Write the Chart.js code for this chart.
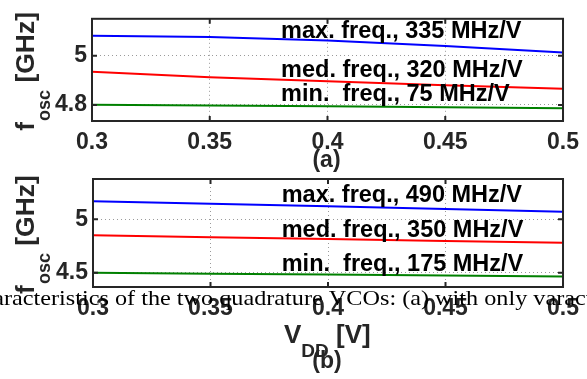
<!DOCTYPE html>
<html>
<head>
<meta charset="utf-8">
<script src="https://cdn.jsdelivr.net/npm/chart.js@4.4.0/dist/chart.umd.min.js"></script>
<style>
  html, body { margin: 0; padding: 0; background: #fff; }
  #wrap { position: relative; width: 587px; height: 379px; overflow: hidden; }
  #wrap canvas { position: absolute; left: 0; top: 0; }
</style>
</head>
<body>
<div id="wrap">
  <canvas id="vcoA" width="587" height="379"></canvas>
  <canvas id="vcoB" width="587" height="379"></canvas>
</div>
<script>
const vdd = [0.3, 0.35, 0.4, 0.45, 0.5];
const xTicks = [0.3, 0.35, 0.4, 0.45, 0.5];

// (a) oscillation frequency in GHz
const maxFreqA = [5.081, 5.076, 5.062, 5.040, 5.013];
const medFreqA = [4.935, 4.913, 4.896, 4.880, 4.866];
const minFreqA = [4.801, 4.798, 4.795, 4.791, 4.787];
const yTicksA = [4.8, 5];
const notesA = ["max. freq., 335 MHz/V", "med. freq., 320 MHz/V", "min.  freq., 75 MHz/V"];

// (b) oscillation frequency in GHz
const maxFreqB = [5.169, 5.146, 5.122, 5.097, 5.071];
const medFreqB = [4.850, 4.832, 4.815, 4.797, 4.781];
const minFreqB = [4.500, 4.491, 4.483, 4.474, 4.464];
const yTicksB = [4.5, 5];
const notesB = ["max. freq., 490 MHz/V", "med. freq., 350 MHz/V", "min.  freq., 175 MHz/V"];

const caption = "characteristics of the two quadrature VCOs: (a) with only varactors";

const SANS = "'Liberation Sans', Arial, sans-serif";
const AXIS_INK = "#262626";

// box around the plot area with MATLAB-style inward ticks
const framePlugin = {
  id: "frame",
  afterDatasetsDraw(chart) {
    const { ctx, chartArea: a, scales } = chart;
    ctx.save();
    ctx.strokeStyle = AXIS_INK;
    ctx.lineWidth = 2;
    ctx.beginPath();
    scales.x.ticks.forEach(t => {
      const px = scales.x.getPixelForValue(t.value);
      ctx.moveTo(px, a.bottom); ctx.lineTo(px, a.bottom - 5);
      ctx.moveTo(px, a.top); ctx.lineTo(px, a.top + 5);
    });
    scales.y.ticks.forEach(t => {
      const py = scales.y.getPixelForValue(t.value);
      ctx.moveTo(a.left, py); ctx.lineTo(a.left + 5, py);
      ctx.moveTo(a.right, py); ctx.lineTo(a.right - 5, py);
    });
    ctx.stroke();
    ctx.strokeRect(a.left, a.top, a.right - a.left, a.bottom - a.top);
    ctx.restore();
  }
};

// slope notes, y-axis title and panel tag
const textPlugin = {
  id: "texts",
  afterDraw(chart, args, o) {
    const { ctx, chartArea: a, scales } = chart;
    ctx.save();
    ctx.fillStyle = "#000";
    ctx.font = "bold 23.5px " + SANS;
    ctx.textAlign = "left";
    ctx.textBaseline = "alphabetic";
    const nx = scales.x.getPixelForValue(o.noteX);
    o.notes.forEach((s, i) => {
      ctx.fillText(s, nx, scales.y.getPixelForValue(o.noteY[i]));
    });

    // f_osc [GHz], rotated
    ctx.fillStyle = AXIS_INK;
    const mainFont = "bold 26.5px " + SANS;
    const subFont = "bold 18px " + SANS;
    ctx.font = mainFont;
    const wf = ctx.measureText("f").width;
    const wr = ctx.measureText(" [GHz]").width;
    ctx.font = subFont;
    const ws = ctx.measureText("osc").width;
    const total = wf + ws + wr;
    const cy = (a.top + a.bottom) / 2 + 2;
    ctx.translate(34, cy + total / 2);
    ctx.rotate(-Math.PI / 2);
    ctx.font = mainFont;
    ctx.fillText("f", 0, 0);
    ctx.font = subFont;
    ctx.fillText("osc", wf + 1, 16);
    ctx.font = mainFont;
    ctx.fillText(" [GHz]", wf + ws + 1, 0);
    ctx.setTransform(1, 0, 0, 1, 0, 0);

    ctx.font = "bold 23px " + SANS;
    ctx.textAlign = "center";
    ctx.textBaseline = "middle";
    ctx.fillText(o.tag, (a.left + a.right) / 2 - 1, o.tagY);

    if (o.xTitle) {
      ctx.textAlign = "left";
      ctx.textBaseline = "alphabetic";
      ctx.font = "bold 26px " + SANS;
      ctx.fillText("V", 284, 343);
      const wv = ctx.measureText("V").width;
      ctx.font = "bold 19px " + SANS;
      ctx.fillText("DD", 284 + wv, 357);
      const wd = ctx.measureText("DD").width;
      ctx.font = "bold 26px " + SANS;
      ctx.fillText(" [V]", 284 + wv + wd, 343);
    }

    if (o.caption) {
      ctx.fillStyle = "#000";
      ctx.font = "22px 'Liberation Serif', 'Times New Roman', serif";
      ctx.textAlign = "left";
      ctx.textBaseline = "alphabetic";
      // the caption runs wider than plain Times; stretch it to its line
      const lead = ctx.measureText("cha").width;
      const span = ctx.measureText(o.caption.slice(3, 62)).width;
      const sx = 571 / span;
      ctx.translate(4, 305);
      ctx.scale(sx, 1);
      ctx.fillText(o.caption, -lead, 0);
    }
    ctx.restore();
  }
};

function makeChart(id, series, yTicks, box, texts) {
  const H = 379, W = 587, xAxisH = 30;
  return new Chart(document.getElementById(id), {
    type: "line",
    data: {
      datasets: [
        { data: series[0], borderColor: "#0000ff" },
        { data: series[1], borderColor: "#ff0000" },
        { data: series[2], borderColor: "#008000" }
      ].map(d => ({
        ...d,
        data: d.data.map((v, i) => ({ x: vdd[i], y: v })),
        borderWidth: 2,
        pointRadius: 0,
        tension: 0,
        fill: false
      }))
    },
    options: {
      responsive: false,
      animation: false,
      layout: {
        padding: { left: 0, top: box.top, right: W - box.right, bottom: H - box.bottom - xAxisH }
      },
      plugins: {
        legend: { display: false },
        tooltip: { enabled: false },
        texts
      },
      scales: {
        x: {
          type: "linear",
          min: 0.3,
          max: 0.5,
          afterBuildTicks: s => { s.ticks = xTicks.map(v => ({ value: v })); },
          afterFit: s => { s.height = xAxisH; },
          ticks: {
            color: AXIS_INK,
            font: { family: SANS, size: 23, weight: "bold" },
            padding: 8,
            maxRotation: 0,
            autoSkip: false,
            callback: v => String(v)
          },
          grid: { color: "#9a9a9a", lineWidth: 1, drawTicks: false },
          border: { display: false, dash: [1, 3] }
        },
        y: {
          type: "linear",
          min: box.yMin,
          max: box.yMax,
          afterBuildTicks: s => { s.ticks = yTicks.map(v => ({ value: v })); },
          afterFit: s => { s.width = box.left; },
          ticks: {
            color: AXIS_INK,
            font: { family: SANS, size: 23, weight: "bold" },
            padding: 5,
            callback: v => String(v)
          },
          grid: { color: "#9a9a9a", lineWidth: 1, drawTicks: false },
          border: { display: false, dash: [1, 3] }
        }
      }
    },
    plugins: [framePlugin, textPlugin]
  });
}

makeChart("vcoA", [maxFreqA, medFreqA, minFreqA], yTicksA,
  { left: 92, right: 568, top: 13, bottom: 121, yMin: 4.735, yMax: 5.15 },
  { notes: notesA, noteX: 0.3803, noteY: [5.073, 4.915, 4.815], tag: "(a)", tagY: 161 });

makeChart("vcoB", [maxFreqB, medFreqB, minFreqB], yTicksB,
  { left: 93, right: 568, top: 179, bottom: 287, yMin: 4.366, yMax: 5.377 },
  { notes: notesB, noteX: 0.3803, noteY: [5.165, 4.837, 4.516], tag: "(b)", tagY: 362,
    xTitle: true, caption });
</script>
</body>
</html>
